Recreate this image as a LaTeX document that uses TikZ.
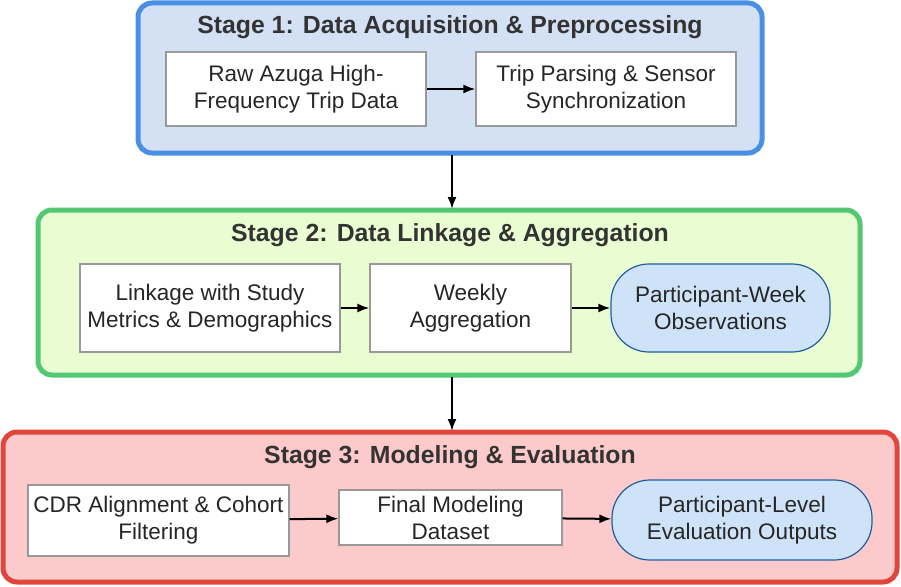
\documentclass[tikz,border=0pt]{standalone}
\usepackage{fontspec}
\setmainfont{Liberation Sans}
\usetikzlibrary{arrows.meta}
\definecolor{bB}{HTML}{4A90E2}\definecolor{fB}{HTML}{D4E1F5}
\definecolor{bG}{HTML}{52C872}\definecolor{fG}{HTML}{EAFCD2}
\definecolor{bR}{HTML}{E0463C}\definecolor{fR}{HTML}{FCCACA}
\definecolor{pill}{HTML}{CFE3F8}\definecolor{pillb}{HTML}{1F5FA0}
\begin{document}
\begin{tikzpicture}[x=1pt,y=-1pt,
 stage/.style={rounded corners=14pt,line width=5pt},
 box/.style={draw=gray!80,line width=1.2pt,fill=white,align=center,font=\fontsize{22.5}{27}\selectfont,text=black!85,inner sep=0pt},
 pl/.style={draw=pillb,line width=1.2pt,fill=pill,align=center,font=\fontsize{22.5}{27}\selectfont,text=black!85,rounded corners=38pt,inner sep=0pt},
 ttl/.style={font=\bfseries\fontsize{24.8}{28}\selectfont,text=black!80},
 ar/.style={-{Latex[length=12pt,width=9pt]},line width=2pt}]
\useasboundingbox (0,0) rectangle (901,586);
\node[stage,draw=bB,fill=fB,minimum width=624pt,minimum height=150pt] (s1) at (450,78) {};
\node[stage,draw=bG,fill=fG,minimum width=822pt,minimum height=165pt] (s2) at (449,292.5) {};
\node[stage,draw=bR,fill=fR,minimum width=894pt,minimum height=150pt] (s3) at (450,507) {};
\node[ttl] (t1) at (450,27) {Stage 1: Data Acquisition \& Preprocessing};
\node[ttl] (t2) at (450,235) {Stage 2: Data Linkage \& Aggregation};
\node[ttl] (t3) at (450,457) {Stage 3: Modeling \& Evaluation};
\node[box,minimum width=260pt,minimum height=74pt] (a) at (296,89) {Raw Azuga High-\\Frequency Trip Data};
\node[box,minimum width=260pt,minimum height=74pt] (b) at (606,89) {Trip Parsing \& Sensor\\Synchronization};
\node[box,minimum width=260pt,minimum height=88pt] (c) at (210,308) {Linkage with Study\\Metrics \& Demographics};
\node[box,minimum width=201pt,minimum height=88pt] (d) at (470.5,308) {Weekly\\Aggregation};
\node[pl,minimum width=219pt,minimum height=88pt] (e) at (720.5,308) {Participant-Week\\Observations};
\node[box,minimum width=261pt,minimum height=71pt] (f) at (158.5,520.5) {CDR Alignment \& Cohort\\Filtering};
\node[box,minimum width=223pt,minimum height=55pt] (g) at (450.5,517.5) {Final Modeling\\Dataset};
\node[pl,minimum width=260pt,minimum height=80pt] (h) at (742,520) {Participant-Level\\Evaluation Outputs};
\draw[ar] (a) -- (b);
\draw[ar] (c) -- (d);
\draw[ar] (d) -- (e);
\draw[ar] (f) -- (g);
\draw[ar] (g) -- (h);
\draw[ar] (452,155) -- (452,209);
\draw[ar] (452,377) -- (452,431);
\end{tikzpicture}
\end{document}
